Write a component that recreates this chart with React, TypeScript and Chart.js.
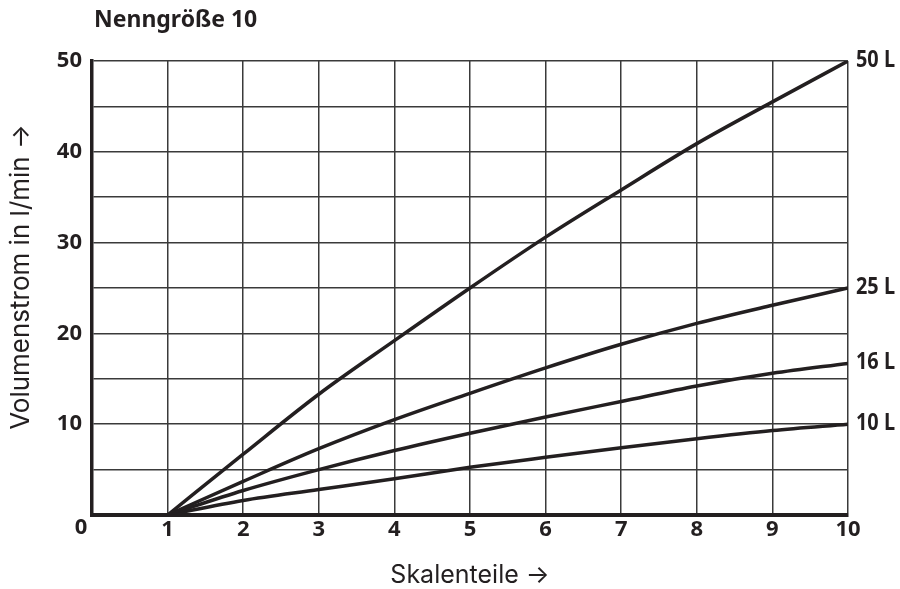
import React, { useEffect, useRef } from "react";
import { Chart, registerables } from "chart.js";

Chart.register(...registerables);

const xValues = [1, 2, 3, 4, 5, 6, 7, 8, 9, 10];
const series50 = [0, 6.7, 13.3, 19.2, 25.0, 30.6, 35.8, 40.9, 45.5, 50];
const series25 = [0, 3.7, 7.3, 10.5, 13.4, 16.2, 18.8, 21.1, 23.1, 25];
const series16 = [0, 2.7, 5.0, 7.1, 9.0, 10.8, 12.5, 14.2, 15.6, 16.7];
const series10 = [0, 1.6, 2.8, 4.0, 5.25, 6.35, 7.4, 8.4, 9.3, 10];
const seriesNames = ["50 L", "25 L", "16 L", "10 L"];
const xTickLabels = ["0", "1", "2", "3", "4", "5", "6", "7", "8", "9", "10"];
const yTickLabels = [10, 20, 30, 40, 50];

const titleText = "Nenngröße 10";
const xTitle = "Skalenteile →";
const yTitle = "Volumenstrom in l/min →";

const INK = "#231f20";
const GRID = "#3a3a3a";
const COND = "'Noto Sans Condensed', 'Noto Sans', 'DejaVu Sans', sans-serif";
const COND_WEIGHT = "bold condensed";
const SANS = "'Noto Sans', 'Open Sans', sans-serif";
const TITLE_FONT = "Inter, 'Noto Sans', sans-serif";

export default function App() {
  const ref = useRef<HTMLCanvasElement | null>(null);

  useEffect(() => {
    if (!ref.current) return;
    const all = [series50, series25, series16, series10];
    const datasets = all.map((s, i) => ({
      label: seriesNames[i],
      data: s.map((v, j) => ({ x: xValues[j], y: v })),
      borderColor: INK,
      borderWidth: 3.5,
      pointRadius: 0,
      fill: false,
      cubicInterpolationMode: "monotone" as const,
    }));

    const overlay = {
      id: "overlay",
      afterDraw(chart: any) {
        const ctx = chart.ctx;
        const xs = chart.scales.x;
        const ys = chart.scales.y;
        ctx.save();
        // title
        ctx.fillStyle = INK;
        ctx.font = `bold 23px ${SANS}`;
        ctx.textAlign = "left";
        ctx.textBaseline = "alphabetic";
        ctx.fillText(titleText, 94, 27);
        // series labels (fit to narrow width)
        ctx.font = `${COND_WEIGHT} 23px ${COND}`;
        ctx.textBaseline = "middle";
        const w = ctx.measureText(seriesNames[0]).width;
        const sx = Math.min(1, 39 / w);
        chart.data.datasets.forEach((ds: any) => {
          const last = ds.data[ds.data.length - 1];
          const px = xs.getPixelForValue(last.x) + 8;
          const py = ys.getPixelForValue(last.y) - 1;
          ctx.save();
          ctx.translate(px, py);
          ctx.scale(sx, 1);
          ctx.fillText(ds.label, 0, 0);
          ctx.restore();
        });
        // x "0" label
        ctx.font = `${COND_WEIGHT} 22px ${COND}`;
        ctx.textAlign = "center";
        ctx.textBaseline = "top";
        ctx.fillText(xTickLabels[0], xs.getPixelForValue(0) - 11, 517);
        // axis titles
        ctx.font = `25px ${TITLE_FONT}`;
        ctx.textAlign = "center";
        ctx.textBaseline = "alphabetic";
        ctx.fillText(xTitle, xs.getPixelForValue(5), 583);
        ctx.translate(29, 277);
        ctx.rotate(-Math.PI / 2);
        ctx.font = `26px ${TITLE_FONT}`;
        ctx.fillText(yTitle, 0, 0);
        ctx.restore();
      },
    };

    const tickFont = { family: COND, size: 22, weight: COND_WEIGHT as any };

    const chart = new Chart(ref.current, {
      type: "line",
      data: { datasets },
      plugins: [overlay],
      options: {
        animation: false,
        responsive: false,
        maintainAspectRatio: false,
        layout: { padding: { top: 61, right: 52, left: 0, bottom: 0 } },
        plugins: { legend: { display: false }, tooltip: { enabled: false } },
        scales: {
          x: {
            type: "linear",
            min: 0,
            max: 10,
            afterFit: (s: any) => { s.height = 74; },
            border: { display: true, width: 4, color: INK },
            grid: { color: GRID, lineWidth: 1.5, drawTicks: false },
            ticks: {
              stepSize: 1,
              padding: 2,
              color: INK,
              font: tickFont,
              callback: (v: any) => (v === 0 ? "" : xTickLabels[v] ?? ""),
            },
          },
          y: {
            type: "linear",
            min: 0,
            max: 50,
            afterFit: (s: any) => { s.width = 92; },
            border: { display: true, width: 3.5, color: INK },
            grid: { color: GRID, lineWidth: 1.5, drawTicks: false },
            ticks: {
              stepSize: 5,
              padding: 10,
              color: INK,
              font: tickFont,
              callback: (v: any) => (yTickLabels.includes(v) ? String(v) : ""),
            },
          },
        },
      },
    });
    return () => chart.destroy();
  }, []);

  return (
    <div style={{ position: "fixed", left: 0, top: 0, width: 900, height: 589, background: "#fff" }}>
      <canvas ref={ref} width={900} height={589} style={{ width: 900, height: 589 }} />
    </div>
  );
}
